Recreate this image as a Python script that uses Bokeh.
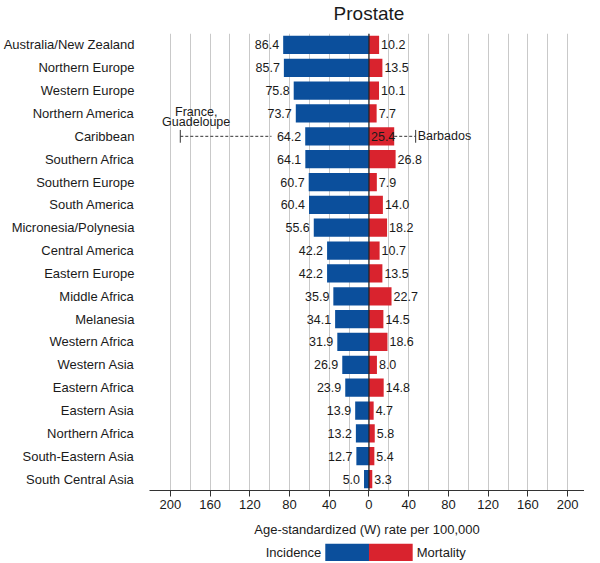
from bokeh.plotting import figure
from bokeh.models import ColumnDataSource, FactorRange, Range1d, FixedTicker, Span
from bokeh.layouts import column
from bokeh.core.properties import value
from bokeh.embed import file_html
from bokeh.resources import INLINE

# ---------------- data ----------------
title_text = "Prostate"
regions = ["Australia/New Zealand", "Northern Europe", "Western Europe", "Northern America",
           "Caribbean", "Southern Africa", "Southern Europe", "South America",
           "Micronesia/Polynesia", "Central America", "Eastern Europe", "Middle Africa",
           "Melanesia", "Western Africa", "Western Asia", "Eastern Africa", "Eastern Asia",
           "Northern Africa", "South-Eastern Asia", "South Central Asia"]
incidence = [86.4, 85.7, 75.8, 73.7, 64.2, 64.1, 60.7, 60.4, 55.6, 42.2,
             42.2, 35.9, 34.1, 31.9, 26.9, 23.9, 13.9, 13.2, 12.7, 5.0]
mortality = [10.2, 13.5, 10.1, 7.7, 25.4, 26.8, 7.9, 14.0, 18.2, 10.7,
             13.5, 22.7, 14.5, 18.6, 8.0, 14.8, 4.7, 5.8, 5.4, 3.3]
x_ticks = [-200, -160, -120, -80, -40, 0, 40, 80, 120, 160, 200]
grid_ticks = list(range(-200, 201, 20))

range_region = "Caribbean"
inc_max = 190.0
inc_max_label = ["France,", "Guadeloupe"]
mort_max = 47.0
mort_max_label = "Barbados"

legend_names = ["Incidence", "Mortality"]

# ---------------- style ----------------
BLUE = "#0B4F9C"
RED = "#D9232E"
FONT = value("Liberation Sans")
TXT = "#1a1a1a"

src = ColumnDataSource(dict(
    region=regions,
    inc_left=[-v for v in incidence],
    mort=mortality,
    inc_lab=[f"{v:.1f}" for v in incidence],
    mort_lab=[f"{v:.1f}" for v in mortality],
    mort_lab_x=[0 if r == range_region else m for r, m in zip(regions, mortality)],
))

xr = Range1d(-221, 217)

# title strip
tfig = figure(width=584, height=33, x_range=xr, y_range=Range1d(0, 1),
              output_backend="svg", toolbar_location=None,
              x_axis_type=None, y_axis_type=None,
              min_border_left=136, min_border_right=0, min_border_top=0, min_border_bottom=0)
tfig.outline_line_color = None
tfig.grid.visible = False
tfig.text(x=[0], y=[0.62], text=[title_text], text_align="center", text_baseline="middle",
          text_font=FONT, text_font_size="19px", text_color=TXT)

p = figure(width=584, height=510,
           y_range=FactorRange(factors=regions[::-1], range_padding=0),
           x_range=xr,
           output_backend="svg", toolbar_location=None,
           min_border_left=136, min_border_right=0, min_border_top=0, min_border_bottom=53)
p.background_fill_color = "white"
p.border_fill_color = "white"
p.outline_line_color = None

# grid
p.xgrid.ticker = FixedTicker(ticks=grid_ticks)
p.xgrid.grid_line_color = "#c9c9c9"
p.xgrid.grid_line_width = 1
p.ygrid.grid_line_color = None

# bars
p.hbar(y="region", left="inc_left", right=0, height=0.8, fill_color=BLUE,
       line_color=None, source=src)
p.hbar(y="region", left=0, right="mort", height=0.8, fill_color=RED,
       line_color=None, source=src)

p.add_layout(Span(location=0, dimension="height", line_color="#222222", line_width=1.2))

# value labels
p.text(x="inc_left", y="region", text="inc_lab", source=src, text_align="right",
       text_baseline="middle", x_offset=-4, text_font=FONT, text_font_size="12.5px",
       text_color=TXT)
p.text(x="mort_lab_x", y="region", text="mort_lab", source=src, text_align="left",
       text_baseline="middle", x_offset=2, text_font=FONT, text_font_size="12.5px",
       text_color=TXT)

# range annotation for the Caribbean
inc_car = incidence[regions.index(range_region)]
mort_car = mortality[regions.index(range_region)]
p.segment(x0=[-inc_max], x1=[-(inc_car + 34)], y0=[range_region], y1=[range_region],
          line_color="#333333", line_width=1, line_dash="3 2")
p.segment(x0=[mort_car], x1=[mort_max], y0=[range_region], y1=[range_region],
          line_color="#333333", line_width=1, line_dash="3 2")
p.segment(x0=[-inc_max, mort_max], x1=[-inc_max, mort_max],
          y0=[(range_region, -0.28), (range_region, -0.28)],
          y1=[(range_region, 0.28), (range_region, 0.28)],
          line_color="#333333", line_width=1)
p.text(x=[mort_max], y=[range_region], text=[mort_max_label], x_offset=2,
       text_align="left", text_baseline="middle", text_font=FONT,
       text_font_size="12.5px", text_color=TXT)
p.text(x=[-inc_max + 16, -inc_max + 16],
       y=[(range_region, 1.08), (range_region, 0.63)],
       text=inc_max_label, text_align="center", text_baseline="middle",
       text_font=FONT, text_font_size="12.5px", text_color=TXT)

# axes
p.yaxis.axis_line_color = None
p.yaxis.major_tick_line_color = None
p.yaxis.minor_tick_line_color = None
p.yaxis.major_label_standoff = 9
p.yaxis.major_label_text_font = "Liberation Sans"
p.yaxis.major_label_text_font_size = "13px"
p.yaxis.major_label_text_color = TXT

p.xaxis.ticker = FixedTicker(ticks=x_ticks, minor_ticks=[])
p.xaxis.major_label_overrides = {t: str(abs(t)) for t in x_ticks}
p.xaxis.major_tick_in = 0
p.xaxis.major_tick_out = 6
p.xaxis.major_tick_line_color = "#333333"
p.xaxis.axis_line_color = "#333333"
p.xaxis.major_label_standoff = 3
p.xaxis.major_label_text_font = "Liberation Sans"
p.xaxis.major_label_text_font_size = "13px"
p.xaxis.major_label_text_color = TXT
p.xaxis.axis_label = "Age-standardized (W) rate per 100,000"
p.xaxis.axis_label_text_font = "Liberation Sans"
p.xaxis.axis_label_text_font_size = "13px"
p.xaxis.axis_label_text_font_style = "normal"
p.xaxis.axis_label_text_color = TXT
p.xaxis.axis_label_standoff = 10

# legend strip
leg = figure(width=584, height=18, x_range=xr, y_range=Range1d(0, 1),
             output_backend="svg", toolbar_location=None,
             x_axis_type=None, y_axis_type=None,
             min_border_left=136, min_border_right=0, min_border_top=0, min_border_bottom=0)
leg.outline_line_color = None
leg.grid.visible = False
leg.quad(left=[-44, 0], right=[0, 44], bottom=[0, 0], top=[1, 1],
         fill_color=[BLUE, RED], line_color=None)
leg.text(x=[-48], y=[0.5], text=[legend_names[0]], text_align="right",
         text_baseline="middle", text_font=FONT, text_font_size="13px", text_color=TXT)
leg.text(x=[48], y=[0.5], text=[legend_names[1]], text_align="left",
         text_baseline="middle", text_font=FONT, text_font_size="13px", text_color=TXT)

layout = column(tfig, p, leg)
open("out.html", "w").write(file_html(layout, INLINE))
